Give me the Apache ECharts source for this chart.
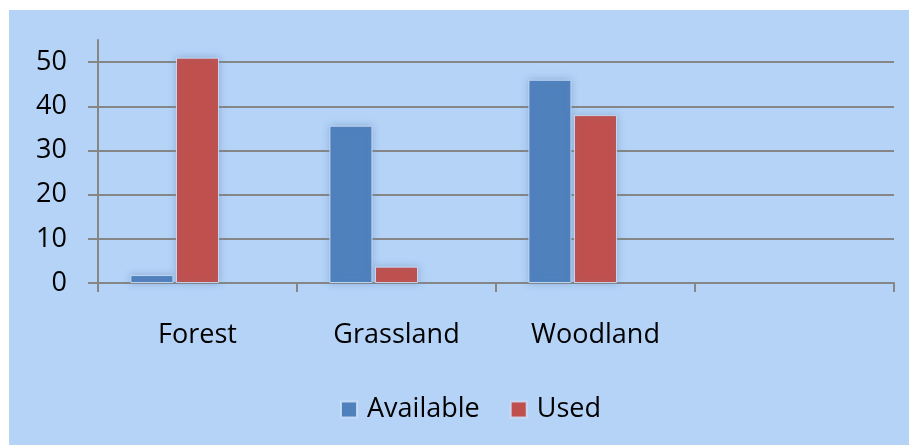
<!DOCTYPE html>
<html>
<head>
<meta charset="utf-8">
<script src="https://cdn.jsdelivr.net/npm/echarts@6/dist/echarts.min.js"></script>
<style>
  html, body { margin: 0; padding: 0; background: #ffffff; }
  #chart { position: absolute; left: 9px; top: 10px; width: 900px; height: 435px; background: #B4D3F7; }
</style>
</head>
<body>
<div id="chart"></div>
<script>
// Habitat categories (the fourth slot is left empty)
const categories = ['Forest', 'Grassland', 'Woodland', ''];
// Percent of habitat available vs. used
const available = [1.8, 35.6, 46, null];
const used = [51, 3.7, 38, null];
// Third, empty series keeps its slot in each group
const spare = [null, null, null, null];
// Value-axis ticks
const yTicks = [0, 10, 20, 30, 40, 50];

const FONT = '"Open Sans", "Noto Sans", sans-serif';
const GRAY = '#868686';

const chart = echarts.init(document.getElementById('chart'), null, { renderer: 'canvas' });

const barStyle = (color) => ({
  color: color,
  borderColor: 'rgba(205,225,250,0.85)',
  borderWidth: 1,
  shadowColor: 'rgba(110,140,185,0.55)',
  shadowBlur: 7
});

chart.setOption({
  backgroundColor: '#B4D3F7',
  animation: false,
  grid: { left: 89, right: 15, top: 30, bottom: 162, containLabel: false },
  legend: {
    data: ['Available', 'Used'],
    left: 326,
    top: 381,
    icon: 'rect',
    itemWidth: 16,
    itemHeight: 16,
    itemGap: 30,
    textStyle: { fontFamily: FONT, fontSize: 27, color: '#000', padding: [0, 0, 0, 5] }
  },
  xAxis: {
    type: 'category',
    data: categories,
    boundaryGap: true,
    axisLine: { show: true, lineStyle: { color: GRAY, width: 2 } },
    axisTick: { show: true, length: 9, lineStyle: { color: GRAY, width: 2 } },
    axisLabel: { fontFamily: FONT, fontSize: 27, color: '#000', margin: 39 },
    splitLine: { show: false }
  },
  yAxis: {
    type: 'value',
    min: 0,
    max: 55,
    interval: 10,
    axisLine: { show: true, lineStyle: { color: GRAY, width: 2 } },
    axisTick: { show: true, length: 10, customValues: yTicks, lineStyle: { color: GRAY, width: 2 } },
    axisLabel: { fontFamily: FONT, fontSize: 27, color: '#000', margin: 31, customValues: yTicks },
    splitLine: { show: true, customValues: yTicks, lineStyle: { color: GRAY, width: 2 } }
  },
  series: [
    { name: 'Available', type: 'bar', data: available, barWidth: 43, barGap: '6%', itemStyle: barStyle('#4F81BD') },
    { name: 'Used', type: 'bar', data: used, barWidth: 43, barGap: '6%', itemStyle: barStyle('#C0504D') },
    { name: 'Spare', type: 'bar', data: spare, barWidth: 43, barGap: '6%', itemStyle: { color: '#9BBB59' } }
  ]
});
</script>
</body>
</html>
